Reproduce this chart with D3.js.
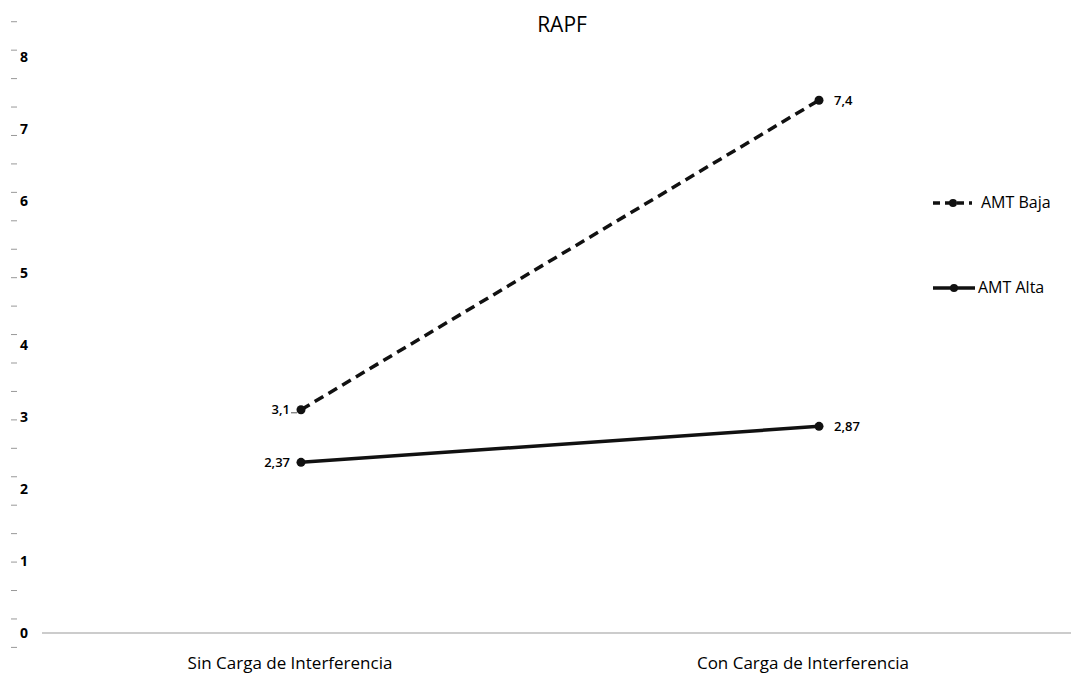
<!DOCTYPE html>
<html>
<head>
<meta charset="utf-8">
<script src="https://cdn.jsdelivr.net/npm/d3@7"></script>
<style>
  body { margin: 0; background: #fff; }
  text { font-family: "Open Sans", "Noto Sans", sans-serif; }
</style>
</head>
<body>
<div id="chart"></div>
<script>
const categories = ["Sin Carga de Interferencia", "Con Carga de Interferencia"];
const seriesNames = ["AMT Baja", "AMT Alta"];
const bajaValues = [3.1, 7.4];
const altaValues = [2.37, 2.87];
const valueLabels = [["3,1", "7,4"], ["2,37", "2,87"]];
const yTickValues = [0, 1, 2, 3, 4, 5, 6, 7, 8];

const width = 1071, height = 677;

const svg = d3.select("#chart").append("svg")
    .attr("width", width)
    .attr("height", height);

// scales
const x = d3.scalePoint()
    .domain(categories)
    .range([301, 819]);

const y = d3.scaleLinear()
    .domain([0, 8])
    .range([633, 57]);

// title
svg.append("text")
    .attr("x", 562)
    .attr("y", 32)
    .attr("text-anchor", "middle")
    .style("font-size", "21px")
    .text("RAPF");

// small dashes along the left edge
const dashValues = d3.range(-0.2, 8.55, 0.395);
svg.append("g")
    .selectAll("line")
    .data(dashValues)
    .enter().append("line")
    .attr("x1", 11)
    .attr("x2", 17)
    .attr("y1", d => y(d))
    .attr("y2", d => y(d))
    .attr("stroke", "#999")
    .attr("stroke-width", 1);

// y tick labels
svg.append("g")
    .selectAll("text")
    .data(yTickValues)
    .enter().append("text")
    .attr("x", 20)
    .attr("y", d => y(d) + 1)
    .attr("dominant-baseline", "middle")
    .style("font-size", "14px")
    .style("font-weight", "bold")
    .text(d => d);

// x axis
const xAxis = svg.append("g")
    .attr("transform", `translate(0,${y(0)})`);
xAxis.append("line")
    .attr("x1", 42)
    .attr("x2", width)
    .attr("stroke", "#999")
    .attr("stroke-width", 1);
xAxis.selectAll(".cat")
    .data(categories)
    .enter().append("text")
    .attr("class", "cat")
    .attr("x", (d, i) => x(d) - (i === 0 ? 11 : 16))
    .attr("y", 36)
    .attr("text-anchor", "middle")
    .style("font-size", "17px")
    .text(d => d);

// lines
const series = [
    { name: seriesNames[0], values: bajaValues, dash: "10,6", labels: valueLabels[0] },
    { name: seriesNames[1], values: altaValues, dash: null, labels: valueLabels[1] }
];

const line = d3.line()
    .x((d, i) => x(categories[i]))
    .y(d => y(d));

series.forEach(s => {
    svg.append("path")
        .datum(s.values)
        .attr("d", line)
        .attr("fill", "none")
        .attr("stroke", "#111")
        .attr("stroke-width", 3.5)
        .attr("stroke-dasharray", s.dash);

    svg.append("g")
        .selectAll("circle")
        .data(s.values)
        .enter().append("circle")
        .attr("cx", (d, i) => x(categories[i]))
        .attr("cy", d => y(d))
        .attr("r", 4.5)
        .attr("fill", "#111");

    // value labels: left of first point, right of second
    svg.append("g")
        .selectAll("text")
        .data(s.values)
        .enter().append("text")
        .attr("x", (d, i) => i === 0 ? x(categories[i]) - 11 : x(categories[i]) + 15)
        .attr("y", d => y(d) + 1)
        .attr("dominant-baseline", "middle")
        .attr("text-anchor", (d, i) => i === 0 ? "end" : "start")
        .style("font-size", "13px")
        .style("font-weight", "600")
        .text((d, i) => s.labels[i]);
});

// little leader next to the 3,1 label
svg.append("line")
    .attr("x1", 291)
    .attr("x2", 297)
    .attr("y1", y(bajaValues[0]) + 3)
    .attr("y2", y(bajaValues[0]) + 3)
    .attr("stroke", "#555")
    .attr("stroke-width", 1);

// legend
const legendY = [203, 288];
const legend = svg.append("g");
series.forEach((s, i) => {
    const g = legend.append("g").attr("transform", `translate(0,${legendY[i]})`);
    g.append("line")
        .attr("x1", 933)
        .attr("x2", i === 0 ? 972 : 975)
        .attr("stroke", "#111")
        .attr("stroke-width", 3.5)
        .attr("stroke-dasharray", i === 0 ? "7,5" : null);
    g.append("circle")
        .attr("cx", i === 0 ? 953 : 954)
        .attr("r", 4)
        .attr("fill", "#111");
    g.append("text")
        .attr("x", i === 0 ? 981 : 978)
        .attr("y", 1)
        .attr("dominant-baseline", "middle")
        .style("font-size", "16px")
        .text(s.name);
});
</script>
</body>
</html>
